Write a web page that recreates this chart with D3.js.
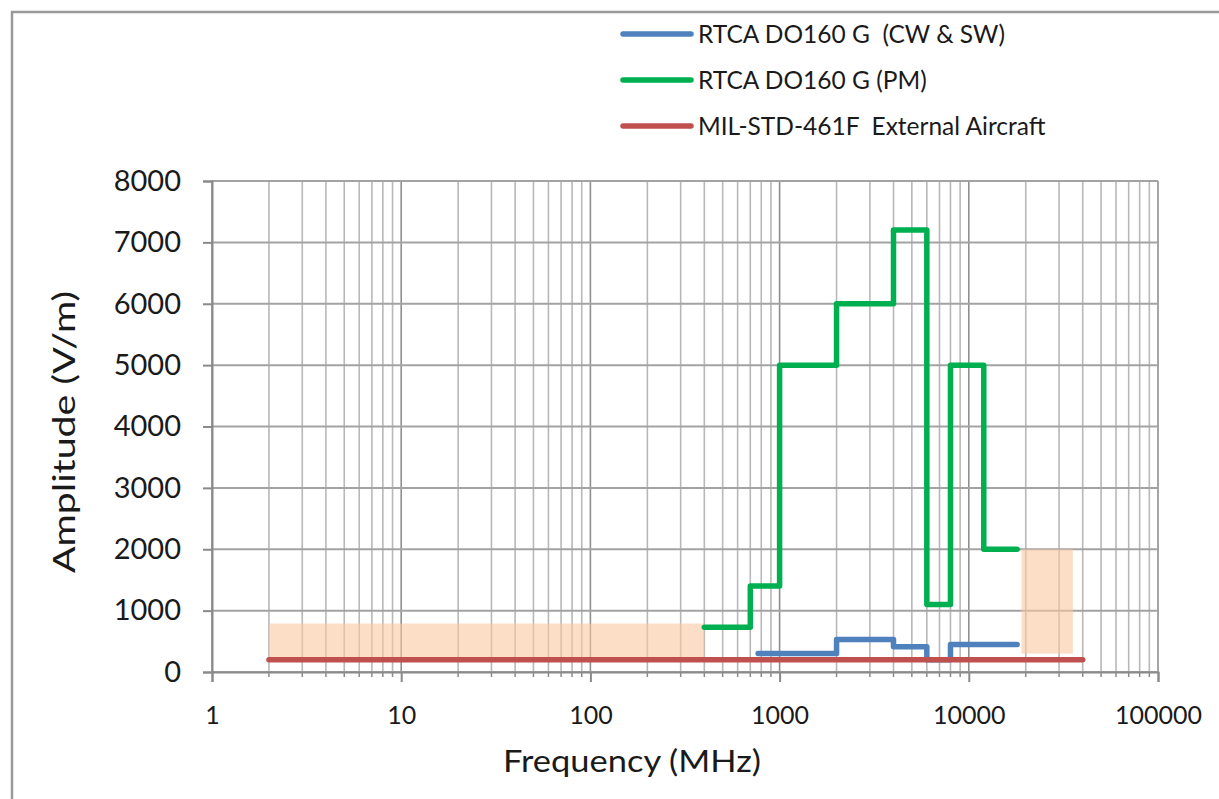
<!DOCTYPE html>
<html>
<head>
<meta charset="utf-8">
<script src="https://cdn.jsdelivr.net/npm/d3@7"></script>
<style>
  html, body { margin: 0; padding: 0; background: #fff; overflow: hidden; }
  svg { display: block; }
  text { font-family: Lato, "Open Sans", sans-serif; fill: #1a1a1a; }
</style>
</head>
<body>
<div id="chart"></div>
<script>
// step-line edges (MHz) and the level held until the next edge (V/m)
const cwFreq = [770, 2000, 4000, 6000, 8000, 18000];
const cwLevel = [300, 530, 410, 200, 450];
const pmFreq = [400, 700, 1000, 2000, 4000, 6000, 8000, 12000, 18000];
const pmLevel = [730, 1400, 5000, 6000, 7200, 1100, 5000, 2000];
const milFreq = [2, 40000];
const milLevel = [200];

// shaded bands
const shadeFrom = [2, 19000];
const shadeTo = [400, 35500];
const shadeLow = [200, 300];
const shadeHigh = [790, 2000];

const seriesNames = ['RTCA DO160 G  (CW & SW)', 'RTCA DO160 G (PM)', 'MIL-STD-461F  External Aircraft'];
const seriesColors = ['#4f81bd', '#00b050', '#c0504d'];

const freqTicks = [1, 10, 100, 1000, 10000, 100000];
const ampTicks = [0, 1000, 2000, 3000, 4000, 5000, 6000, 7000, 8000];

const svgWidth = 1219, svgHeight = 799;
const margin = {top: 181, right: 61, bottom: 127, left: 212};
const innerWidth = svgWidth - margin.left - margin.right;
const innerHeight = svgHeight - margin.top - margin.bottom;

const svg = d3.select('#chart').append('svg')
    .attr('width', svgWidth)
    .attr('height', svgHeight);

// outer chart frame (only left and top edges fall inside the picture)
svg.append('path')
    .attr('d', `M12,${svgHeight} V12 H${svgWidth}`)
    .attr('fill', 'none')
    .attr('stroke', '#999')
    .attr('stroke-width', 2.5);

const g = svg.append('g')
    .attr('transform', `translate(${margin.left},${margin.top})`);

const x = d3.scaleLog().domain([1, 100000]).range([0, innerWidth]);
const y = d3.scaleLinear().domain([0, 8000]).range([innerHeight, 0]);

// minor grid positions 2..9 in every decade
const minorFreqs = [];
freqTicks.slice(0, -1).forEach(d => {
    for (let k = 2; k < 10; k++) minorFreqs.push(d * k);
});

const gGrid = g.append('g').attr('class', 'grid');
gGrid.selectAll('line.minor').data(minorFreqs).join('line')
    .attr('class', 'minor')
    .attr('x1', d => x(d)).attr('x2', d => x(d))
    .attr('y1', 0).attr('y2', innerHeight)
    .attr('stroke', '#b8b8b8').attr('stroke-width', 1.6);
gGrid.selectAll('line.major').data(freqTicks).join('line')
    .attr('class', 'major')
    .attr('x1', d => x(d)).attr('x2', d => x(d))
    .attr('y1', 0).attr('y2', innerHeight)
    .attr('stroke', '#8f8f8f').attr('stroke-width', 1.6);
gGrid.selectAll('line.h').data(ampTicks).join('line')
    .attr('class', 'h')
    .attr('x1', 0).attr('x2', innerWidth)
    .attr('y1', d => y(d)).attr('y2', d => y(d))
    .attr('stroke', '#a3a3a3').attr('stroke-width', 2);

// shaded bands
g.selectAll('rect.shade').data(shadeFrom.map((f, i) => i)).join('rect')
    .attr('class', 'shade')
    .attr('x', i => x(shadeFrom[i]))
    .attr('width', i => x(shadeTo[i]) - x(shadeFrom[i]))
    .attr('y', i => y(shadeHigh[i]))
    .attr('height', i => y(shadeLow[i]) - y(shadeHigh[i]))
    .attr('fill', 'rgb(250,200,160)')
    .attr('fill-opacity', 0.6);

// axes
const yAxis = d3.axisLeft(y).tickValues(ampTicks).tickFormat(d3.format('d'))
    .tickSize(9).tickPadding(22);
const yAxisG = g.append('g').call(yAxis)
    .attr('font-size', 29).attr('font-family', 'Lato');
yAxisG.select('.domain').attr('stroke', '#8a8a8a').attr('stroke-width', 2);
yAxisG.selectAll('.tick line').attr('stroke', '#8a8a8a').attr('stroke-width', 2);
yAxisG.selectAll('.tick text').attr('fill', '#1a1a1a');

const xAxis = d3.axisBottom(x).tickValues(freqTicks).tickFormat(d3.format('d'))
    .tickSize(10).tickPadding(24);
const xAxisG = g.append('g').attr('transform', `translate(0,${innerHeight})`).call(xAxis)
    .attr('font-size', 25).attr('font-family', 'Lato');
xAxisG.select('.domain').attr('stroke', '#8a8a8a').attr('stroke-width', 2);
xAxisG.selectAll('.tick line').attr('stroke', '#8a8a8a').attr('stroke-width', 2);
xAxisG.selectAll('.tick text').attr('fill', '#1a1a1a');
xAxisG.selectAll('line.minor-tick').data(minorFreqs).join('line')
    .attr('class', 'minor-tick')
    .attr('x1', d => x(d)).attr('x2', d => x(d))
    .attr('y1', 0).attr('y2', 5)
    .attr('stroke', '#8a8a8a').attr('stroke-width', 1.5);

// step lines
const stepData = (freq, level) => freq.map((f, i) => ({f: f, v: level[Math.min(i, level.length - 1)]}));
const line = d3.line().x(d => x(d.f)).y(d => y(d.v)).curve(d3.curveStepAfter);
const lines = [stepData(cwFreq, cwLevel), stepData(pmFreq, pmLevel), stepData(milFreq, milLevel)];

g.selectAll('path.series').data(lines).join('path')
    .attr('class', 'series')
    .attr('d', line)
    .attr('fill', 'none')
    .attr('stroke', (d, i) => seriesColors[i])
    .attr('stroke-width', 5.5)
    .attr('stroke-linecap', 'round')
    .attr('stroke-linejoin', 'round');

// axis titles
svg.append('text')
    .attr('x', 632).attr('y', 772)
    .attr('text-anchor', 'middle')
    .attr('textLength', 258)
    .attr('lengthAdjust', 'spacingAndGlyphs')
    .style('font-size', '31px')
    .text('Frequency (MHz)');
svg.append('text')
    .attr('transform', 'translate(75,432) rotate(-90)')
    .attr('text-anchor', 'middle')
    .attr('textLength', 282)
    .attr('lengthAdjust', 'spacingAndGlyphs')
    .style('font-size', '30px')
    .text('Amplitude (V/m)');

// legend
const legend = svg.append('g').attr('class', 'legend')
    .selectAll('g').data(seriesNames).join('g')
    .attr('transform', (d, i) => `translate(623,${34 + i * 46})`);
legend.append('line')
    .attr('x1', 0).attr('x2', 68)
    .attr('stroke', (d, i) => seriesColors[i])
    .attr('stroke-width', 5.5)
    .attr('stroke-linecap', 'round');
legend.append('text')
    .attr('x', 75).attr('dy', '0.35em')
    .style('font-size', '24.5px')
    .style('white-space', 'pre')
    .text(d => d);
</script>
</body>
</html>
